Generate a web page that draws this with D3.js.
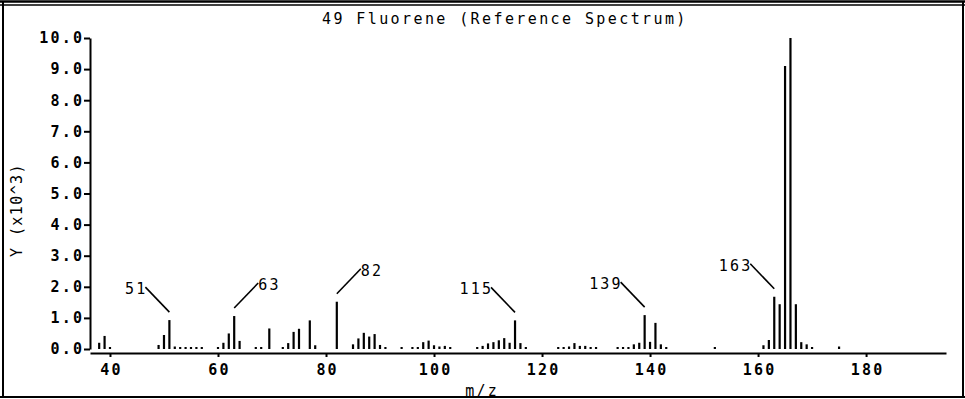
<!DOCTYPE html>
<html>
<head>
<meta charset="utf-8">
<script src="https://cdn.jsdelivr.net/npm/d3@7/dist/d3.min.js"></script>
<style>
  html, body { margin: 0; padding: 0; background: #fff; }
  svg { display: block; }
  text { font-family: "DejaVu Sans Mono", monospace; fill: #000; }
</style>
</head>
<body>
<svg id="chart" width="965" height="399"></svg>
<script>
// ---- data (intensity in units of 10^3) ----
const title = "49 Fluorene (Reference Spectrum)";
const xLabel = "m/z";
const yLabel = "Y (x10^3)";
const mz = [38, 39, 40, 49, 50, 51, 52, 53, 54, 55, 56, 57,
            60, 61, 62, 63, 64, 67, 68, 69.5, 72, 73, 74, 75, 77, 78,
            82, 85, 86, 87, 88, 89, 90, 91, 94, 96, 97, 98, 99, 100, 101, 102, 103,
            108, 109, 110, 111, 112, 113, 114, 115, 116, 117,
            123, 124, 125, 126, 127, 128, 129, 130,
            134, 135, 136, 137, 138, 139, 140, 141, 142, 143,
            152, 161, 162, 163, 164, 165, 166, 167, 168, 169, 170, 175];
const intensity = [0.20, 0.42, 0.06, 0.13, 0.45, 0.93, 0.08, 0.05, 0.04, 0.05, 0.04, 0.05,
            0.05, 0.20, 0.50, 1.06, 0.26, 0.04, 0.05, 0.66, 0.05, 0.19, 0.55, 0.65, 0.92, 0.12,
            1.52, 0.15, 0.34, 0.52, 0.40, 0.48, 0.13, 0.05, 0.04, 0.05, 0.05, 0.22, 0.27, 0.12, 0.08, 0.10, 0.05,
            0.05, 0.10, 0.18, 0.22, 0.28, 0.35, 0.20, 0.92, 0.19, 0.05,
            0.05, 0.05, 0.08, 0.19, 0.10, 0.10, 0.05, 0.05,
            0.04, 0.04, 0.05, 0.15, 0.20, 1.09, 0.23, 0.84, 0.15, 0.05,
            0.05, 0.12, 0.29, 1.68, 1.44, 9.10, 10.00, 1.44, 0.22, 0.15, 0.05, 0.08];
const xTicks = [40, 60, 80, 100, 120, 140, 160, 180];
const yTicks = [0, 1, 2, 3, 4, 5, 6, 7, 8, 9, 10];
const labelledPeaks = [51, 63, 82, 115, 139, 163];

// ---- drawing ----
const svg = d3.select("#chart");
const LS = 2.2; // letter spacing
const FS = 15;
const FW = "bold";
const x = d3.scaleLinear().domain([36.3, 194.8]).range([90, 946]);
const y = d3.scaleLinear().domain([0, 10]).range([349, 38]);

// frame
const frame = svg.append("g").attr("stroke", "#000").attr("fill", "none");
frame.append("line").attr("x1", 0).attr("x2", 965).attr("y1", 1.5).attr("y2", 1.5).attr("stroke-width", 2.5);
frame.append("line").attr("x1", 0).attr("x2", 965).attr("y1", 5).attr("y2", 5).attr("stroke-width", 1.5);
frame.append("line").attr("x1", 3).attr("x2", 3).attr("y1", 1).attr("y2", 398).attr("stroke-width", 2);
frame.append("line").attr("x1", 963).attr("x2", 963).attr("y1", 1).attr("y2", 398).attr("stroke-width", 2);
frame.append("line").attr("x1", 0).attr("x2", 965).attr("y1", 397).attr("y2", 397).attr("stroke-width", 2);

// title
svg.append("text").attr("x", 322).attr("y", 24)
  .attr("font-size", FS).attr("font-weight", "normal").attr("letter-spacing", 2.4).text(title);

// y axis
const yAxis = d3.axisLeft(y).tickValues(yTicks).tickFormat(d3.format(".1f"))
  .tickSize(6).tickSizeOuter(0).tickPadding(2);
const gy = svg.append("g").attr("transform", "translate(90,0)").call(yAxis);
gy.select(".domain").attr("stroke", "#000").attr("stroke-width", 2);
gy.selectAll(".tick line").attr("stroke", "#000").attr("stroke-width", 2);
gy.selectAll(".tick text").attr("font-family", "DejaVu Sans Mono").attr("font-size", FS)
  .attr("font-weight", FW).attr("letter-spacing", LS).attr("dx", LS).attr("fill", "#000");

// x axis
const xAxis = d3.axisBottom(x).tickValues(xTicks).tickFormat(d3.format("d"))
  .tickSize(4).tickSizeOuter(0).tickPadding(7);
const gx = svg.append("g").attr("transform", "translate(0,353)").call(xAxis);
gx.select(".domain").attr("stroke", "#000").attr("stroke-width", 2.2);
gx.selectAll(".tick line").attr("stroke", "#000").attr("stroke-width", 2);
gx.selectAll(".tick text").attr("font-family", "DejaVu Sans Mono").attr("font-size", FS)
  .attr("font-weight", FW).attr("letter-spacing", LS).attr("dx", LS / 2).attr("fill", "#000");

// axis titles
svg.append("text").attr("x", 481 + LS / 2).attr("y", 396).attr("text-anchor", "middle")
  .attr("font-size", FS).attr("letter-spacing", LS).text(xLabel);
svg.append("text").attr("transform", "translate(22,210) rotate(-90)").attr("text-anchor", "middle")
  .attr("font-size", FS).attr("letter-spacing", 1.4).text(yLabel);

// bars
const peaks = mz.map((m, i) => ({ mz: m, v: intensity[i] }));
svg.append("g").selectAll("line").data(peaks).join("line")
  .attr("x1", d => x(d.mz)).attr("x2", d => x(d.mz))
  .attr("y1", y(0)).attr("y2", d => Math.min(y(d.v), y(0) - 2))
  .attr("stroke", "#000").attr("stroke-width", 2.2);

// peak annotations with leader lines
const rightSide = new Set([63, 82]);
const ann = svg.append("g");
labelledPeaks.forEach(p => {
  const d = peaks.find(q => q.mz === p);
  const bx = x(d.mz), top = y(d.v);
  const dir = rightSide.has(p) ? 1 : -1;
  const fx = bx + dir * 24, fy = top - 33;
  ann.append("line").attr("x1", bx).attr("y1", top - 8).attr("x2", fx).attr("y2", fy)
    .attr("stroke", "#000").attr("stroke-width", 1.6);
  ann.append("text").attr("x", dir > 0 ? fx : fx + LS).attr("y", fy + 7)
    .attr("text-anchor", dir > 0 ? "start" : "end")
    .attr("font-size", FS).attr("letter-spacing", LS).text(String(p));
});
</script>
</body>
</html>
